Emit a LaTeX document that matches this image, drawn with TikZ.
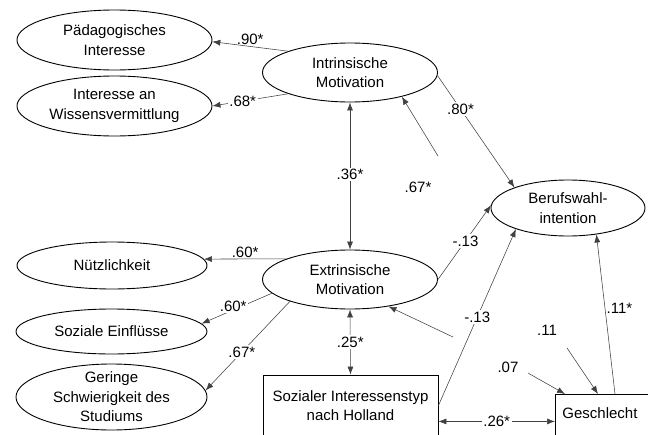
\documentclass[tikz,border=0pt]{standalone}
\usepackage{fontspec}
\setmainfont{Liberation Sans}
\usepackage{tikz}
\usetikzlibrary{calc}
\usetikzlibrary{arrows.meta}
\usetikzlibrary{shapes.geometric}
\definecolor{line-gray}{gray}{0.25}
\newcommand{\diagfont}{\fontsize{15}{19.5}\selectfont}

\tikzset{
  latent/.style={ellipse, draw, line width=0.9pt, inner sep=0pt, align=center, font=\diagfont},
  manifest/.style={rectangle, draw, line width=0.9pt, align=center, font=\diagfont},
  effect/.style={->, >={Latex[length=8pt, width=6pt]}, line width=0.55pt, line-gray},
  corr/.style={<->, >={Latex[length=8pt, width=6pt]}, line width=0.55pt, line-gray},
  coef/.style={font=\diagfont, inner sep=1.5pt, text=black},
  coefw/.style={coef, fill=white},
}

\begin{document}
\begin{tikzpicture}[x=1pt, y=-1pt]
\clip (0, 0) rectangle (648, 434);

% ---------------------------------------------------
% Latent factors
\node[latent, minimum width=195pt, minimum height=60pt] (paed) at (114.5,  40) {Pädagogisches\\Interesse};
\node[latent, minimum width=195pt, minimum height=60pt] (wiss) at (114.5, 106) {Interesse an\\Wissensvermittlung};
\node[latent, minimum width=190pt, minimum height=47pt] (nutz) at (112, 265.5) {Nützlichkeit};
\node[latent, minimum width=191pt, minimum height=45pt] (soz)  at (111.5, 331.5) {Soziale Einflüsse};
\node[latent, minimum width=191pt, minimum height=66pt, inner ysep=-5pt] (ger) at (111.5, 397) {Geringe\\Schwierigkeit des\\Studiums};

\node[latent, minimum width=175pt, minimum height=59pt] (im)  at (350,  72.5) {Intrinsische\\Motivation};
\node[latent, minimum width=175pt, minimum height=59pt] (em)  at (350, 279.5) {Extrinsische\\Motivation};
\node[latent, minimum width=154pt, minimum height=56pt] (bwi) at (568, 208) {Berufswahl-\\intention};

% Manifest variables
\node[manifest, minimum width=175pt, minimum height=61pt] (holl) at (350.5, 405.5) {Sozialer Interessenstyp\\nach Holland};
\node[manifest, anchor=north west, inner xsep=7pt, inner ysep=0pt, text width=86pt, align=left,
      text height=24.5pt, text depth=21.5pt] (gesch) at (555, 394) {Geschlecht};

% ---------------------------------------------------
% Loadings
\path[] (im.161) edge[effect] node[coef, above, midway]{.90*} (paed.-1);
\path[] (im.199) edge[effect] node[coefw, pos=0.6]{.68*} (wiss.east);
\path[] (em.162) edge[effect] node[coef, above, midway]{.60*} (nutz.4);
\path[] (em.190) edge[effect] node[coefw, pos=0.55, yshift=4pt]{.60*} (soz.5);
\path[] (em.200) edge[effect] node[coefw, pos=0.57]{.67*} (ger.4);

% Correlations
\path[] (im.south) edge[corr] node[coefw, pos=0.49]{.36*} (em.north);
\path[] (em.south) edge[corr] node[coefw, midway]{.25*} (holl.north);
\coordinate[] (g26) at ($ (gesch.west) + (0, 4) $);
\path[] (g26 -| holl.east) edge[corr] node[coefw, midway]{.26*} (g26);

% Paths to Berufswahlintention
\path[] (im.-2) edge[effect] node[coefw, pos=0.3]{.80*} (bwi.159);
\path[] (em.east) edge[effect] node[coefw, pos=0.52]{-.13} (bwi.178);
\path[] (holl.east) edge[effect] node[coefw, pos=0.5]{-.13} (bwi.202);
\coordinate[] (g11s) at ($ (gesch.north west) + (60, 0) $);
\path[] (g11s) edge[effect] node[coef, right, pos=0.54]{.11*} (bwi.-43);

% Open arrows
\coordinate[] (t67) at (438, 156);
\path[] (t67) edge[effect] (im.-25);
\node[coef] (c67) at (418, 187) {.67*};
\coordinate[] (tem) at (453, 337);
\path[] (tem) edge[effect] (em.-35);
\coordinate[] (t11) at (567, 348);
\coordinate[] (g11) at ($ (gesch.north west) + (43, 0) $);
\path[] (t11) edge[effect] (g11);
\node[coef] (c11) at (547, 330) {.11};
\coordinate[] (t07) at (528, 373);
\coordinate[] (g07) at ($ (gesch.north west) + (10, 0) $);
\path[] (t07) edge[effect] (g07);
\node[coef] (c07) at (508, 367) {.07};
% ---------------------------------------------------
\end{tikzpicture}
\end{document}
